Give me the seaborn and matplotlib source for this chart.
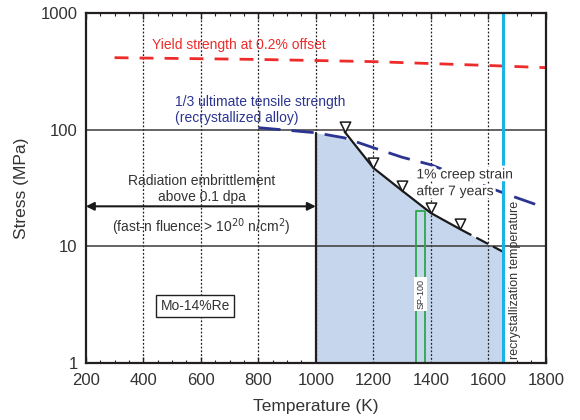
import numpy as np
import pandas as pd
import matplotlib
matplotlib.use("Agg")
import matplotlib.pyplot as plt
import matplotlib.patheffects as pe
import seaborn as sns
from matplotlib.ticker import MultipleLocator, FixedLocator, NullLocator
from matplotlib.path import Path

# ---- data ----
yield_T = [300, 800, 1200, 1600, 1800]
yield_S = [414, 400, 383, 355, 340]

uts_T = [800, 1000, 1100, 1200, 1300, 1400, 1500, 1600, 1700, 1800]
uts_S = [104, 94, 85, 70, 58, 50, 40, 32, 26, 21.3]

creep_T = [1100, 1200, 1300, 1400, 1500]
creep_S = [96, 47, 30, 19.3, 14.1]
creep_ext_T = [1500, 1650]
creep_ext_S = [14.1, 9.0]

recryst_T = 1650
sp100_T = [1348, 1381]
sp100_top = 20
embrittle_T = 1000
arrow_S = 22

x_ticks = [200, 400, 600, 800, 1000, 1200, 1400, 1600, 1800]
y_ticks = [1, 10, 100, 1000]
y_tick_labels = ["1", "10", "100", "1000"]

sns.set_theme(style="ticks")
plt.rcParams['font.family'] = ['Liberation Sans', 'DejaVu Sans']
txt = '#333333'
plt.rcParams['text.color'] = txt
plt.rcParams['axes.labelcolor'] = txt
plt.rcParams['xtick.color'] = '#231F20'
plt.rcParams['ytick.color'] = '#231F20'
plt.rcParams['xtick.labelcolor'] = txt
plt.rcParams['ytick.labelcolor'] = txt

fig = plt.figure(figsize=(5.8, 4.2), dpi=100)
ax = fig.add_axes([0.148, 0.136, 0.793, 0.833])
ax.set_yscale('log')
ax.set_xlim(200, 1800)
ax.set_ylim(1, 1000)

# shaded allowable region
grid_T = np.linspace(embrittle_T, recryst_T, 300)
uts_i = 10 ** np.interp(grid_T, uts_T, np.log10(uts_S))
cr_T = creep_T + creep_ext_T[1:]
cr_S = creep_S + creep_ext_S[1:]
cr_i = 10 ** np.interp(grid_T, cr_T, np.log10(cr_S), left=1e4)
top = np.minimum(uts_i, cr_i)
ax.fill_between(grid_T, 1, top, color='#C6D6EC', lw=0, zorder=1)

# grid lines
for t in x_ticks[1:-1]:
    ax.axvline(t, color='#231F20', lw=0.9, ls=(0, (1.5, 1.5)), zorder=2)
for s in [10, 100]:
    ax.axhline(s, color='#3a3a3a', lw=1.1, zorder=2)
ax.plot([embrittle_T, embrittle_T], [1, top[0]], color='#231F20', lw=1.6, zorder=3)

# yield strength
l_y = sns.lineplot(x=yield_T, y=yield_S, ax=ax, color='#EE2B2B', lw=2, zorder=4).lines[-1]
l_y.set_dashes((5, 4))
# UTS/3
l_uts = sns.lineplot(x=uts_T, y=uts_S, ax=ax, color='#2B3591', lw=2, zorder=4).lines[-1]
l_uts.set_dashes((8, 4))
# creep
tri = Path([(-0.5, 1.0), (0.5, 1.0), (0.0, 0.0), (-0.5, 1.0)],
           [Path.MOVETO, Path.LINETO, Path.LINETO, Path.CLOSEPOLY])
sns.lineplot(x=creep_T, y=creep_S, ax=ax, color='#1a1a1a', lw=1.6, marker=tri,
             markersize=15, markerfacecolor='white', markeredgecolor='#1a1a1a',
             markeredgewidth=1.1, zorder=5)
l_ext = sns.lineplot(x=creep_ext_T, y=creep_ext_S, ax=ax, color='#1a1a1a', lw=1.6, zorder=5).lines[-1]
l_ext.set_dashes((6, 2.5))

# recrystallization temperature
ax.axvline(recryst_T, color='#1BB3E6', lw=2.2, zorder=6)
ax.text(recryst_T + 42, 1.08, 'recrystallization temperature', rotation=90,
        fontsize=9, ha='center', va='bottom', color=txt, zorder=7)

# SP-100 box
ax.plot([sp100_T[0], sp100_T[0], sp100_T[1], sp100_T[1]], [1, sp100_top, sp100_top, 1],
        color='#2BA84A', lw=1.3, zorder=6)
ax.text(np.mean(sp100_T), 3.9, 'SP-100', rotation=90, fontsize=6.5, ha='center', va='center',
        color=txt, zorder=7, bbox=dict(facecolor='white', edgecolor='none', pad=1.2))

# texts
ax.text(733, 530, 'Yield strength at 0.2% offset', color='#EE2B2B', fontsize=10,
        ha='center', va='center')
ax.text(510, 148, '1/3 ultimate tensile strength\n(recrystallized alloy)', color='#2B3591',
        fontsize=10, ha='left', va='center', linespacing=1.2)
ax.text(1350, 35, '1% creep strain\nafter 7 years', color=txt, fontsize=10, ha='left',
        va='center', linespacing=1.25, zorder=8,
        path_effects=[pe.withStroke(linewidth=4, foreground='white')])
ax.text(603, 31, 'Radiation embrittlement\nabove 0.1 dpa', color=txt, fontsize=10,
        ha='center', va='center', linespacing=1.25)
ax.text(603, 14.5, '(fast-n fluence > 10$^{20}$ n/cm$^{2}$)', color=txt, fontsize=10,
        ha='center', va='center')
ax.annotate('', xy=(200, arrow_S), xytext=(embrittle_T, arrow_S),
            arrowprops=dict(arrowstyle='<|-|>', color='#1a1a1a', lw=1.5,
                            mutation_scale=12, shrinkA=0, shrinkB=0), zorder=6)
ax.text(580, 3.08, 'Mo-14%Re', fontsize=10, ha='center', va='center', color=txt,
        bbox=dict(facecolor='white', edgecolor='#231F20', lw=1, pad=3))

# axes styling
ax.xaxis.set_major_locator(FixedLocator(x_ticks))
ax.xaxis.set_minor_locator(MultipleLocator(50))
ax.yaxis.set_major_locator(FixedLocator(y_ticks))
ax.set_yticklabels(y_tick_labels)
ax.yaxis.set_minor_locator(NullLocator())
ax.tick_params(axis='x', which='both', direction='in', top=True, labelsize=12, pad=7)
ax.tick_params(axis='x', which='major', length=4, width=1)
ax.tick_params(axis='x', which='minor', length=2.5, width=0.8)
ax.tick_params(axis='y', which='major', direction='in', length=0, labelsize=12, pad=6)
for sp in ax.spines.values():
    sp.set_visible(True)
    sp.set_color('#231F20')
    sp.set_linewidth(1.6)
    sp.set_zorder(10)
ax.set_xlabel('Temperature (K)', fontsize=12.5, labelpad=8)
ax.set_ylabel('Stress (MPa)', fontsize=12.5, labelpad=8)

fig.savefig('out.png', dpi=100)
